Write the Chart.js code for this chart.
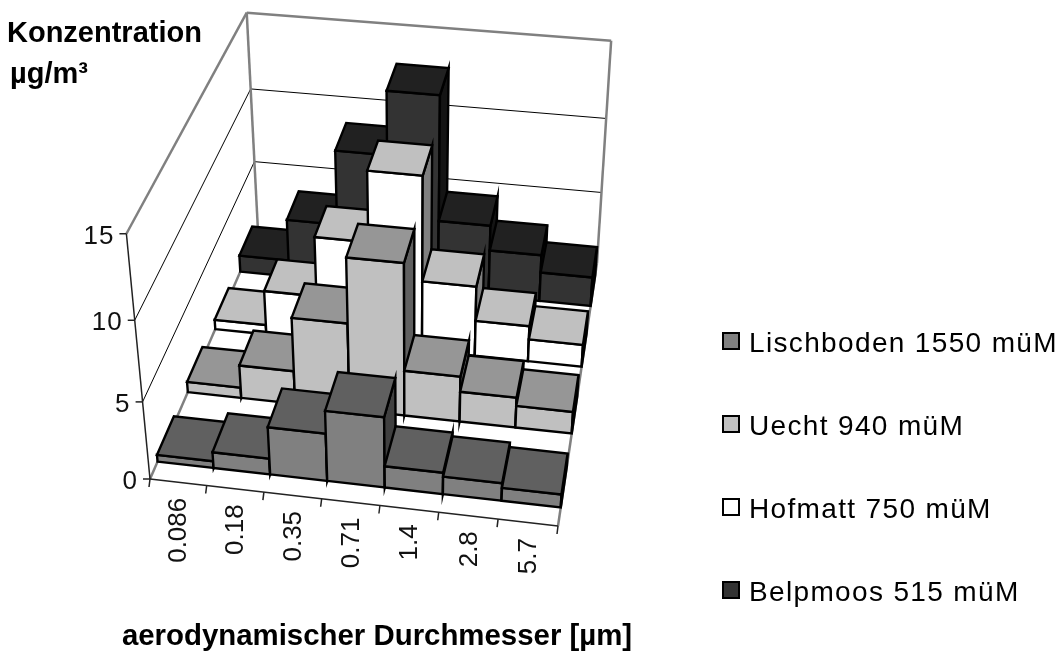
<!DOCTYPE html>
<html><head><meta charset="utf-8">
<style>html,body{margin:0;padding:0;background:#fff}#w{width:1064px;height:651px}</style>
<script src="https://cdn.jsdelivr.net/npm/chart.js@4"></script></head>
<body><div id="w"><canvas id="c" width="1064" height="651"></canvas></div>
<script>
const categories = ['0.086','0.18','0.35','0.71','1.4','2.8','5.7'];
const lischboden = [0.45,1.05,3.1,4.55,1.4,1.15,0.85];
const uecht      = [0.7,2.2,5.7,9.85,3.0,2.0,1.45];
const hofmatt    = [0.65,3.0,6.95,11.5,4.7,2.4,1.5];
const belpmoos   = [1.15,4.0,9.0,13.15,4.9,3.2,2.0];
const seriesNames = ['Lischboden 1550 müM','Uecht 940 müM','Hofmatt 750 müM','Belpmoos 515 müM'];
const seriesValues = [lischboden,uecht,hofmatt,belpmoos];
const frontColors = ['#808080','#c0c0c0','#ffffff','#333333'];
const topColors   = ['#606060','#969696','#c0c0c0','#212121'];
const sideColors  = ['#404040','#606060','#808080','#141414'];
const yTicks = {min:0,max:15,step:5};
const titleY = ['Konzentration','µg/m³'];
const titleX = 'aerodynamischer Durchmesser [µm]';

// camera calibration: box corners on the page
const F00=[150,479],F10=[558,526],F11=[597,263],F01=[258,231];
const C00=[125,233],C01=[248,12],C11=[611,42];
const depthFront=0.235, depthBack=0.78; // bar extent inside each row
function det3(m){return m[0][0]*(m[1][1]*m[2][2]-m[1][2]*m[2][1])-m[0][1]*(m[1][0]*m[2][2]-m[1][2]*m[2][0])+m[0][2]*(m[1][0]*m[2][1]-m[1][1]*m[2][0]);}
function makeProjector(){
  const [x0,y0]=F00,[x1,y1]=F10,[x2,y2]=F11,[x3,y3]=F01;
  const dx1=x1-x2,dx2=x3-x2,sx=x0-x1+x2-x3,dy1=y1-y2,dy2=y3-y2,sy=y0-y1+y2-y3;
  const den=dx1*dy2-dx2*dy1;
  const g=(sx*dy2-dx2*sy)/den,h=(dx1*sy-sx*dy1)/den;
  const a=x1-x0+g*x1,b=x3-x0+h*x3,c=x0,d=y1-y0+g*y1,e=y3-y0+h*y3,f=y0;
  // least squares for the height column from the ceiling corners
  const rows=[];
  [[0,0,C00],[0,1,C01],[1,1,C11]].forEach(([u,v,P])=>{
    const D=g*u+h*v+1;
    rows.push([1,0,-P[0],P[0]*D-(a*u+b*v+c)]);
    rows.push([0,1,-P[1],P[1]*D-(d*u+e*v+f)]);
  });
  const A=[[0,0,0],[0,0,0],[0,0,0]],B=[0,0,0];
  rows.forEach(R=>{for(let i=0;i<3;i++){B[i]+=R[i]*R[3];for(let j=0;j<3;j++)A[i][j]+=R[i]*R[j];}});
  const D=det3(A);
  const sol=[0,1,2].map(k=>det3(A.map((row,i)=>row.map((val,j)=>j===k?B[i]:val)))/D);
  const [p,q,r]=sol;
  return (u,v,w)=>{const z=g*u+h*v+1+r*w;return [(a*u+b*v+c+p*w)/z,(d*u+e*v+f+q*w)/z];};
}
const project=makeProjector();
function poly(ctx,pts,fill){
  ctx.beginPath();pts.forEach((q,i)=>i?ctx.lineTo(q[0],q[1]):ctx.moveTo(q[0],q[1]));ctx.closePath();
  if(fill){ctx.fillStyle=fill;ctx.fill();}ctx.stroke();
}
function seg(ctx,a,b){ctx.beginPath();ctx.moveTo(a[0],a[1]);ctx.lineTo(b[0],b[1]);ctx.stroke();}
const FONT='"Liberation Sans", Arial, sans-serif';
const bars3d={
  id:'bars3d',
  beforeDatasetsDraw(chart){
    const ctx=chart.ctx,xs=chart.scales.x,ys=chart.scales.y;
    const U=px=>(px-xs.left)/xs.width, W=px=>(ys.bottom-px)/ys.height;
    const nRows=chart.data.datasets.length;
    ctx.save();ctx.lineJoin='miter';ctx.lineCap='butt';
    // walls
    ctx.strokeStyle='#000';ctx.lineWidth=1;
    ys.ticks.forEach(t=>{const w=W(ys.getPixelForValue(t.value));
      if(w<=0.001||w>=0.999)return;
      seg(ctx,project(0,0,w),project(0,1,w));seg(ctx,project(0,1,w),project(1,1,w));});
    ctx.strokeStyle='#808080';ctx.lineWidth=2.5;
    seg(ctx,project(0,0,0),project(0,1,0));
    seg(ctx,project(0,1,0),project(1,1,0));
    seg(ctx,project(1,1,0),project(1,0,0));
    seg(ctx,project(0,0,1),project(0,1,1));
    seg(ctx,project(0,1,1),project(1,1,1));
    seg(ctx,project(0,1,0),project(0,1,1));
    seg(ctx,project(1,1,0),project(1,1,1));
    // axes
    ctx.strokeStyle='#222';ctx.lineWidth=1.5;
    seg(ctx,project(0,0,0),project(0,0,1));
    seg(ctx,project(0,0,0),project(1,0,0));
    ctx.fillStyle='#111';
    ctx.font='26px '+FONT;ctx.letterSpacing='1px';ctx.textAlign='right';ctx.textBaseline='middle';
    ys.ticks.forEach(t=>{const w=W(ys.getPixelForValue(t.value));const q=project(0,0,w);
      seg(ctx,q,[q[0]-7,q[1]]);ctx.fillText(String(t.value),q[0]-12,q[1]+3);});
    ctx.letterSpacing='0px';
    const n=categories.length;
    for(let i=0;i<=n;i++){
      const u=i<n?U(xs.getPixelForTick(i)-xs.width/n/2):1;const q=project(u,0,0);
      seg(ctx,q,[q[0]-1,q[1]+8]);
    }
    for(let i=0;i<n;i++){
      const q=project(U(xs.getPixelForTick(i)),0,0);
      ctx.save();ctx.translate(q[0]+1,q[1]+15.5);ctx.rotate(-Math.PI/2);
      ctx.textAlign='right';ctx.textBaseline='middle';
      ctx.fillText(xs.getLabelForValue(i),0,0);ctx.restore();
    }
    // bars, back row first, left to right
    ctx.lineWidth=2.4;ctx.strokeStyle='#000';
    for(let r=nRows-1;r>=0;r--){
      const meta=chart.getDatasetMeta(r);
      const v0=(r+depthFront)/nRows,v1=(r+depthBack)/nRows;
      meta.data.forEach(el=>{
        const p=el.getProps(['x','y','base','width'],true);
        const u0=U(p.x-p.width/2),u1=U(p.x+p.width/2),w=W(p.y),b=W(p.base);
        poly(ctx,[project(u0,v0,b),project(u1,v0,b),project(u1,v0,w),project(u0,v0,w)],frontColors[r]);
        poly(ctx,[project(u1,v0,b),project(u1,v1,b),project(u1,v1,w),project(u1,v0,w)],sideColors[r]);
        poly(ctx,[project(u0,v0,w),project(u1,v0,w),project(u1,v1,w),project(u0,v1,w)],topColors[r]);
      });
    }
    ctx.restore();
    return false;
  },
  afterDraw(chart){
    const ctx=chart.ctx;ctx.save();ctx.fillStyle='#000';ctx.textBaseline='alphabetic';
    ctx.font='bold 29px '+FONT;ctx.textAlign='left';
    ctx.fillText(titleY[0],7,42);ctx.fillText(titleY[1],10,83);
    ctx.font='bold 29.4px '+FONT;ctx.textAlign='center';ctx.fillText(titleX,377,645);
    ctx.font='28px '+FONT;ctx.letterSpacing='1.35px';ctx.textAlign='left';
    chart.data.datasets.forEach((ds,i)=>{
      const y=341+83*i;
      ctx.fillStyle=ds.backgroundColor;ctx.strokeStyle='#000';ctx.lineWidth=2;
      ctx.beginPath();ctx.rect(723,y-8,16,16);ctx.fill();ctx.stroke();
      ctx.fillStyle='#000';ctx.fillText(ds.label,749,y+11);
    });
    ctx.restore();
  }
};
new Chart(document.getElementById('c'),{
  type:'bar',
  data:{labels:categories,datasets:seriesNames.map((name,i)=>({label:name,data:seriesValues[i],backgroundColor:frontColors[i],grouped:false,barPercentage:1,categoryPercentage:1}))},
  options:{responsive:false,animation:false,devicePixelRatio:1,
    layout:{padding:0},
    plugins:{legend:{display:false},tooltip:{enabled:false},title:{display:false}},
    scales:{
      x:{type:'category',display:false},
      y:{type:'linear',display:false,min:yTicks.min,max:yTicks.max,ticks:{stepSize:yTicks.step}}
    }},
  plugins:[bars3d]
});
</script></body></html>
